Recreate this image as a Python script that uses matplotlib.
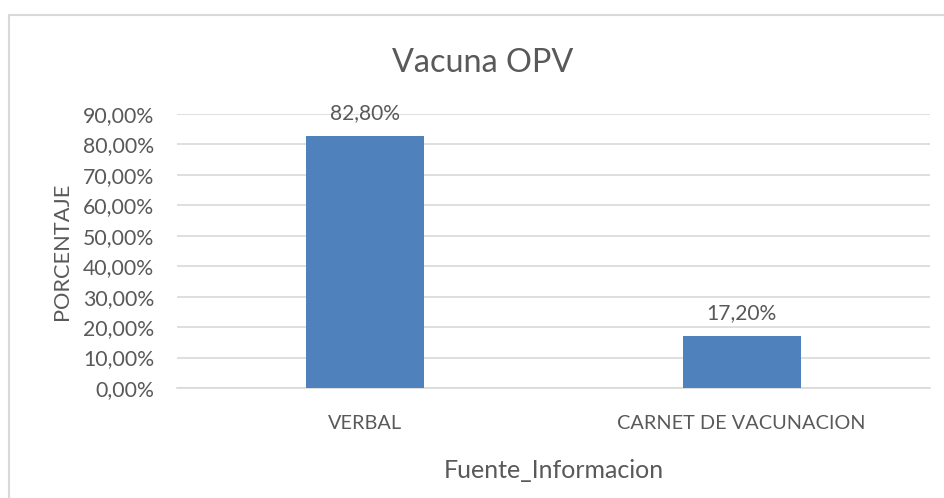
import matplotlib
matplotlib.use("Agg")
import matplotlib.pyplot as plt
from matplotlib.patches import Rectangle
from matplotlib.ticker import FuncFormatter

categories = ["VERBAL", "CARNET DE VACUNACION"]
values = [0.828, 0.172]
value_labels = ["82,80%", "17,20%"]
title = "Vacuna OPV"
xlabel = "Fuente_Informacion"
ylabel = "PORCENTAJE"

W, H = 945, 498
FONT = ['Lato', 'DejaVu Sans']
plt.rcParams['font.family'] = FONT
txt = '#595959'
fig = plt.figure(figsize=(W/100, H/100), dpi=100)
fig.patch.set_facecolor('white')
renderer = fig.canvas.get_renderer()


def fit_size(s, target_px, base=12.0):
    t = fig.text(0, 0, s, fontsize=base)
    w = t.get_window_extent(renderer).width
    t.remove()
    return base * target_px / w


fs_ytick = fit_size("70,00%", 71)
fs_xtick = fit_size("CARNET DE VACUNACION", 246)
fs_data = fit_size("82,80%", 70)
fs_xlabel = fit_size(xlabel, 221)
fs_ylabel = fit_size(ylabel, 137)
fs_title = fit_size(title, 181)

fig.add_artist(Rectangle((9/W, -0.1), 2, 1.1 - 15/H, transform=fig.transFigure,
                         fill=False, edgecolor='#D9D9D9', linewidth=1.5))

ax = fig.add_axes([177/W, (H-388)/H, (930-177)/W, (388-114)/H])
x = range(len(categories))
ax.bar(x, values, width=0.313, color='#4F81BD', zorder=3)
ax.set_xlim(-0.5, 1.5)
ax.set_ylim(0, 0.9)
ax.set_yticks([i/10 for i in range(10)])
ax.yaxis.set_major_formatter(FuncFormatter(lambda v, p: f"{v*100:.2f}%".replace('.', ',')))
ax.grid(axis='y', color='#D9D9D9', linewidth=1.2, zorder=0)
for s in ['top', 'right', 'left']:
    ax.spines[s].set_visible(False)
ax.spines['bottom'].set_color('#D9D9D9')
ax.spines['bottom'].set_linewidth(1.2)
ax.tick_params(axis='both', length=0, colors=txt)
ax.tick_params(axis='y', pad=23*0.72, labelsize=fs_ytick)
ax.tick_params(axis='x', pad=27*0.72, labelsize=fs_xtick)
ax.set_xticks(list(x))
ax.set_xticklabels(categories)
for xi, v, lab in zip(x, values, value_labels):
    ax.annotate(lab, (xi, v), xytext=(0, 12), textcoords='offset points',
                ha='center', va='baseline', color=txt, fontsize=fs_data)
fig.text(553.5/W, 1 - 478/H, xlabel, ha='center', va='baseline', color=txt, fontsize=fs_xlabel)
fig.text(68/W, 1 - 251.5/H, ylabel, ha='center', va='baseline', rotation=90,
         rotation_mode='anchor', color=txt, fontsize=fs_ylabel)
fig.text(483/W, 1 - 72/H, title, ha='center', va='baseline', color=txt, fontsize=fs_title)
fig.savefig("out.png", dpi=100)
